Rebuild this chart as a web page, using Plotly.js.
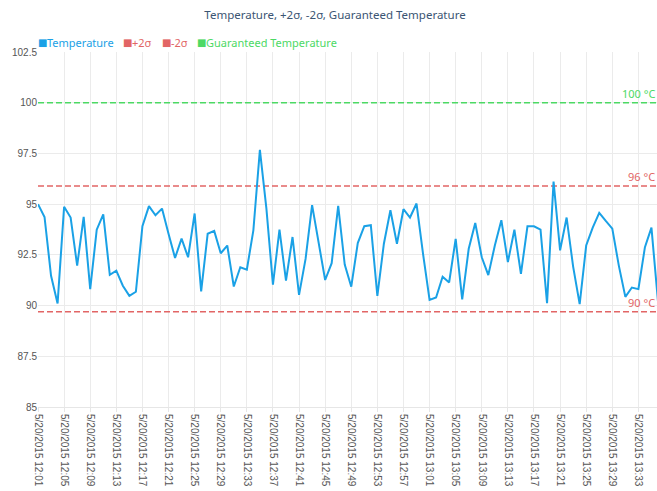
<!DOCTYPE html>
<html>
<head>
<meta charset="utf-8">
<script src="https://cdn.plot.ly/plotly-3.0.1.min.js"></script>
<style>html,body{margin:0;padding:0;background:#fff;overflow:hidden}</style>
</head>
<body>
<div id="chart" style="width:657px;height:491px"></div>
<script>
const dateLabel = "2015-05-20";
const times = ["12:01","12:02","12:03","12:04","12:05","12:06","12:07","12:08","12:09","12:10",
"12:11","12:12","12:13","12:14","12:15","12:16","12:17","12:18","12:19","12:20",
"12:21","12:22","12:23","12:24","12:25","12:26","12:27","12:28","12:29","12:30",
"12:31","12:32","12:33","12:34","12:35","12:36","12:37","12:38","12:39","12:40",
"12:41","12:42","12:43","12:44","12:45","12:46","12:47","12:48","12:49","12:50",
"12:51","12:52","12:53","12:54","12:55","12:56","12:57","12:58","12:59","13:00",
"13:01","13:02","13:03","13:04","13:05","13:06","13:07","13:08","13:09","13:10",
"13:11","13:12","13:13","13:14","13:15","13:16","13:17","13:18","13:19","13:20",
"13:21","13:22","13:23","13:24","13:25","13:26","13:27","13:28","13:29","13:30",
"13:31","13:32","13:33","13:34","13:35","13:36"];
const temperature = [95.0,94.37,91.47,90.1,94.87,94.34,91.97,94.37,90.81,93.74,
94.5,91.52,91.72,90.98,90.48,90.68,93.91,94.9,94.45,94.78,
93.54,92.35,93.3,92.38,94.54,90.7,93.54,93.68,92.58,92.96,
90.94,91.89,91.77,93.71,97.68,94.78,91.03,93.74,91.23,93.38,
90.53,92.3,94.95,93.01,91.26,92.09,94.92,92.02,90.93,93.08,
93.91,93.96,90.48,93.05,94.7,93.05,94.75,94.34,95.03,92.55,
90.28,90.4,91.42,91.14,93.29,90.31,92.8,94.07,92.38,91.5,
92.96,94.21,92.14,93.74,91.56,93.91,93.91,93.74,90.12,96.11,
92.72,94.34,91.92,90.07,92.96,93.84,94.57,94.17,93.79,91.97,
90.43,90.89,90.81,92.88,93.84,90.2];
const plus2Sigma = 95.89;
const minus2Sigma = 89.7;
const guaranteed = 100;
const seriesNames = ["Temperature","+2σ","-2σ","Guaranteed Temperature"];
const limitLabels = ["96 °C","90 °C","100 °C"];
const yTicks = [85,87.5,90,92.5,95,97.5,100,102.5];

const blue = "#1aa1e6", red = "#e26565", green = "#4cd964";
const x = times.map(t => dateLabel + " " + t);
const ends = [x[0], x[x.length-1]];

const traces = [
  {x: ends, y: [guaranteed, guaranteed], mode: "lines", line: {color: green, width: 1.5, dash: "6px,3px"}, hoverinfo: "skip", name: seriesNames[3]},
  {x: ends, y: [plus2Sigma, plus2Sigma], mode: "lines", line: {color: red, width: 1.5, dash: "6px,3px"}, hoverinfo: "skip", name: seriesNames[1]},
  {x: ends, y: [minus2Sigma, minus2Sigma], mode: "lines", line: {color: red, width: 1.5, dash: "6px,3px"}, hoverinfo: "skip", name: seriesNames[2]},
  {x: x, y: temperature, mode: "lines", line: {color: blue, width: 2}, name: seriesNames[0]}
];

const plotW = 619;
function px2paper(p){ return (p - 38) / plotW; }
const legendFont = {family: "Noto Sans, DejaVu Sans, sans-serif", size: 11};
const legendItems = [
  {name: seriesNames[0], color: blue, px: 37},
  {name: seriesNames[1], color: red, px: 122},
  {name: seriesNames[2], color: red, px: 161},
  {name: seriesNames[3], color: green, px: 196}
];
const legY = 1 + 10/355;
const annotations = [];
legendItems.forEach(it => {
  annotations.push({
    xref: "paper", yref: "paper", x: px2paper(it.px - 1), y: legY, xanchor: "left", yanchor: "middle",
    text: "■", showarrow: false, font: {family: "DejaVu Sans", size: 10, color: it.color}
  });
  annotations.push({
    xref: "paper", yref: "paper", x: px2paper(it.px + 8), y: legY, xanchor: "left", yanchor: "middle",
    text: it.name, showarrow: false, font: Object.assign({color: it.color}, legendFont)
  });
});
const labelFont = {family: "Noto Sans, DejaVu Sans, sans-serif", size: 11};
annotations.push(
  {xref: "paper", yref: "y", x: 1, y: plus2Sigma, xanchor: "right", yanchor: "bottom", text: limitLabels[0], showarrow: false, font: Object.assign({color: red}, labelFont)},
  {xref: "paper", yref: "y", x: 1, y: minus2Sigma, xanchor: "right", yanchor: "bottom", text: limitLabels[1], showarrow: false, font: Object.assign({color: red}, labelFont)},
  {xref: "paper", yref: "y", x: 1, y: guaranteed, xanchor: "right", yanchor: "bottom", text: limitLabels[2], showarrow: false, font: Object.assign({color: green}, labelFont)}
);

const layout = {
  width: 657, height: 491,
  margin: {l: 38, r: 0, t: 52, b: 84, pad: 0},
  paper_bgcolor: "#fff", plot_bgcolor: "#fff",
  showlegend: false,
  title: {text: "Temperature, +2σ, -2σ, Guaranteed Temperature", xref: "container", x: 335/657, xanchor: "center", yref: "container", y: 1 - 15/491, yanchor: "middle",
    font: {family: "Noto Sans, DejaVu Sans, sans-serif", size: 11.5, color: "#3b5573"}},
  xaxis: {
    type: "date",
    range: ["2015-05-20 12:01:00", "2015-05-20 13:35:51"],
    tick0: "2015-05-20 12:01:00", dtick: 240000,
    tickformat: "%-m/%-d/%Y %H:%M",
    tickangle: 90,
    tickfont: {family: "Liberation Sans, Arial, sans-serif", size: 10, color: "#555"},
    showgrid: true, gridcolor: "#ebebeb", gridwidth: 1,
    showline: true, linecolor: "#e6e6e6",
    ticks: "outside", ticklen: 4, tickcolor: "#e6e6e6",
    zeroline: false, fixedrange: true
  },
  yaxis: {
    range: [85, 102.5],
    tickvals: yTicks,
    ticktext: yTicks.map(v => String(v)),
    tickfont: {family: "Liberation Sans, Arial, sans-serif", size: 10, color: "#555"},
    showgrid: true, gridcolor: "#ebebeb", gridwidth: 1,
    zeroline: false, showline: false, ticks: "", ticklen: 0,
    fixedrange: true
  },
  annotations: annotations
};

Plotly.newPlot("chart", traces, layout, {displayModeBar: false, staticPlot: true});
</script>
</body>
</html>
